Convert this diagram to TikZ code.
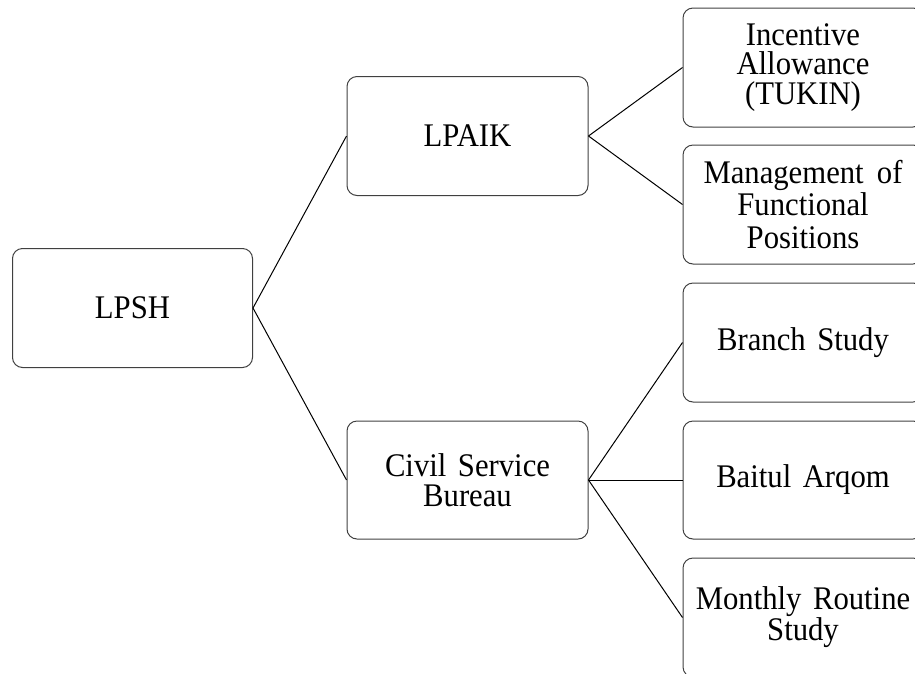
\documentclass[tikz,border=0pt]{standalone}
\usepackage{fontspec}
\setmainfont{Liberation Serif}[FakeStretch=0.93]
\begin{document}
\begin{tikzpicture}[x=1pt,y=-1pt,
  box/.style={draw=black!75, line width=1pt, rounded corners=10pt, minimum width=240pt, minimum height=119pt, align=center, inner sep=0pt, font=\fontsize{33}{29.5}\selectfont},
  link/.style={draw=black, line width=1pt}]
\useasboundingbox (0,0) rectangle (915,673);
\clip (0,0) rectangle (915,673);
\node[box] (lpsh) at (132.5,308) {LPSH};
\node[box, minimum width=241pt] (lpaik) at (467.5,136) {LPAIK};
\node[box, minimum width=241pt, minimum height=118pt] (csb) at (467.5,480) {Civil\hspace{0.35em}Service\\Bureau};
\node[box] (tukin) at (803,67.5) {Incentive\\Allowance\\(TUKIN)};
\node[box, font=\fontsize{33}{32.5}\selectfont] (mfp) at (803,204.5) {Management\hspace{0.4em}of\\Functional\\Positions};
\node[box] (branch) at (803,342.5) {Branch\hspace{0.35em}Study};
\node[box, minimum height=118pt] (baitul) at (803,480) {Baitul\hspace{0.35em}Arqom};
\node[box] (monthly) at (803,617.5) {Monthly\hspace{0.35em}Routine\\Study};
\draw[link] (lpsh.east) -- (lpaik.west);
\draw[link] (lpsh.east) -- (csb.west);
\draw[link] (lpaik.east) -- (tukin.west);
\draw[link] (lpaik.east) -- (mfp.west);
\draw[link] (csb.east) -- (branch.west);
\draw[link] (csb.east) -- (baitul.west);
\draw[link] (csb.east) -- (monthly.west);
\end{tikzpicture}
\end{document}
